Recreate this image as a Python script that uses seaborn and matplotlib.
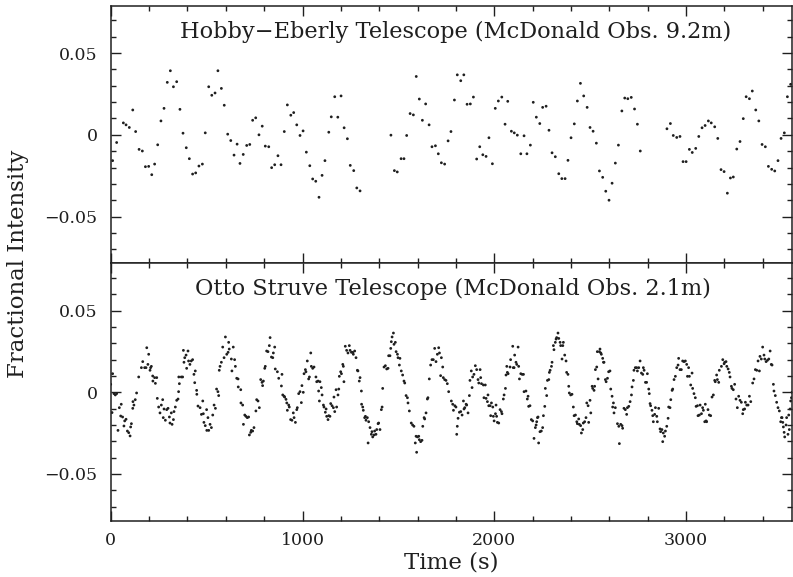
import numpy as np
import pandas as pd
import matplotlib
matplotlib.use("Agg")
import matplotlib.pyplot as plt
from matplotlib.ticker import MultipleLocator, FuncFormatter
import seaborn as sns

# ---------------- data ----------------
hobby_title = "Hobby\u2212Eberly Telescope (McDonald Obs. 9.2m)"
struve_title = "Otto Struve Telescope (McDonald Obs. 2.1m)"
x_label = "Time (s)"
y_label = "Fractional Intensity"

hobby_time = [10, 31, 66, 80, 97, 115, 130, 148, 165, 181, 198, 214, 229, 245, 262, 278, 295, 311, 327, 344,
              361, 377, 394, 410, 427, 443, 460, 478, 493, 511, 527, 544, 559, 577, 592, 610, 626, 643, 659, 674,
              691, 709, 725, 740, 756, 773, 790, 806, 824, 839, 855, 872, 888, 905, 921, 939, 954, 970, 987, 1003,
              1020, 1038, 1053, 1069, 1086, 1102, 1117, 1137, 1150, 1168, 1184, 1201, 1217, 1234, 1249, 1267, 1283, 1300,
              1461, 1479, 1494, 1514, 1529, 1543, 1561, 1578, 1593, 1609, 1625, 1642, 1660, 1675, 1693, 1708, 1724, 1741,
              1759, 1774, 1792, 1807, 1825, 1841, 1858, 1875, 1891, 1908, 1924, 1940, 1957, 1972, 1990, 2005, 2021, 2039,
              2056, 2070, 2089, 2104, 2120, 2138, 2155, 2170, 2188, 2203, 2219, 2237, 2252, 2270, 2285, 2301, 2318, 2336,
              2352, 2369, 2384, 2400, 2417, 2433, 2449, 2466, 2484, 2499, 2515, 2532, 2548, 2565, 2581, 2598, 2614, 2631,
              2647, 2665, 2680, 2696, 2714, 2731, 2746, 2761,
              2900, 2918, 2933, 2951, 2968, 2984, 3000, 3017, 3032, 3050, 3066, 3083, 3099, 3116, 3131, 3149, 3165, 3182,
              3198, 3215, 3231, 3246, 3264, 3281, 3298, 3313, 3330, 3345, 3363, 3379, 3396, 3413, 3429, 3446, 3462, 3479,
              3495, 3512, 3528, 3545]
hobby_flux = [-0.0158, -0.0047, 0.0073, 0.0061, 0.0045, 0.0152, 0.002, -0.0089, -0.0099, -0.0195, -0.0193, -0.0244,
              -0.0179, -0.0061, 0.0085, 0.0162, 0.0321, 0.0392, 0.0294, 0.0325, 0.0156, 0.001, -0.0079, -0.0146, -0.024,
              -0.0233, -0.0191, -0.0179, 0.0012, 0.0294, 0.0242, 0.0256, 0.0392, 0.0284, 0.0181, 0.0004, -0.0035, -0.0124,
              -0.0057, -0.0175, -0.012, -0.0065, -0.0059, 0.0089, 0.0104, 0.0, 0.0053, -0.0069, -0.0073, -0.0201, -0.0183,
              -0.0128, -0.0183, 0.002, 0.0183, 0.012, 0.0136, 0.0061, -0.0004, 0.0024, -0.0106, -0.0189, -0.027, -0.0284,
              -0.0382, -0.0248, -0.0158, 0.0016, 0.011, 0.0233, 0.0108, 0.0238, 0.0043, -0.0024, -0.0187, -0.0219, -0.0325,
              -0.0343,
              -0.0002, -0.0219, -0.0227, -0.0146, -0.0146, -0.0004, 0.013, 0.0122, 0.0357, 0.0219, 0.0089, 0.0189, 0.0061,
              -0.0073, -0.0067, -0.0116, -0.0171, -0.0179, -0.0037, 0.002, 0.0213, 0.0367, 0.0331, 0.0367, 0.0187, 0.0189,
              0.0231, -0.0148, -0.0073, -0.0122, -0.0132, -0.0018, -0.0177, 0.0162, 0.0207, 0.0231, 0.0065, 0.0205, 0.0022,
              0.0012, -0.0002, -0.0116, -0.0006, -0.0116, -0.0063, 0.0199, 0.0108, 0.0069, 0.0168, 0.0175, 0.0028, -0.011,
              -0.0134, -0.0238, -0.0268, -0.0268, -0.0156, -0.0018, 0.0067, 0.0207, 0.0315, 0.0238, 0.0168, 0.0045, 0.0022,
              -0.0051, -0.0221, -0.026, -0.0345, -0.04, -0.0296, -0.0173, -0.0063, 0.0146, 0.0225, 0.0221, 0.0229, 0.0158,
              0.0065, -0.0099,
              0.0037, 0.0069, -0.0004, -0.0016, -0.001, -0.0164, -0.0164, -0.0089, -0.0108, -0.0083, -0.001, 0.0043,
              0.0057, 0.0085, 0.0073, 0.0049, -0.0022, -0.0213, -0.0225, -0.0357, -0.0264, -0.0258, -0.0087, -0.0041,
              0.0099, 0.0233, 0.0221, 0.0268, 0.0152, 0.0085, -0.0059, -0.0073, -0.0193, -0.0211, -0.0221, -0.0158,
              -0.0022, 0.0012, 0.0233, 0.0309]

struve_time = [0, 7, 10, 17, 24, 31, 38, 45, 52, 55, 62, 69, 73, 80, 87, 94, 101, 104, 108, 115, 116, 121, 128, 135,
               146, 160, 167, 177, 184, 188, 194, 198, 205, 208, 212, 219, 220, 229, 233, 240, 243, 250, 257, 264, 271,
               274, 278, 285, 292, 299, 306, 309, 316, 320, 327, 330, 337, 344, 351, 354, 355, 358, 368, 375, 379, 382,
               386, 393, 396, 403, 406, 413, 420, 427, 434, 438, 441, 448, 449, 455, 466, 473, 480, 483, 486, 493, 500,
               501, 507, 511, 518, 525, 532, 539, 546, 552, 559, 563, 566, 570, 577, 584, 591, 598, 605, 612, 615, 618,
               629, 632, 639, 646, 650, 657, 664, 665, 678, 679, 688, 692, 699, 705, 712, 719, 723, 730, 733, 740, 747,
               757, 761, 768, 775, 782, 789, 792, 796, 803, 806, 813, 820, 827, 831, 838, 845, 848, 855, 858, 869, 876,
               890, 893, 897, 904, 907, 914, 918, 921, 928, 931, 938, 945, 952, 956, 963, 970, 973, 980, 987, 994, 997,
               1004, 1008, 1015, 1018, 1025, 1032, 1036, 1043, 1046, 1053, 1060, 1070, 1074, 1081, 1084, 1088, 1091, 1098,
               1102, 1109, 1112, 1119, 1123, 1126, 1133, 1137, 1143, 1147, 1154, 1161, 1164, 1168, 1175, 1178, 1185, 1189,
               1192, 1199, 1203, 1210, 1213, 1216, 1223, 1230, 1237, 1244, 1248, 1255, 1262, 1265, 1272, 1279, 1286, 1289,
               1296, 1300, 1307, 1308, 1314, 1317, 1324, 1328, 1331, 1338, 1342, 1345, 1352, 1359, 1362, 1366, 1373, 1376,
               1383, 1387, 1394, 1397, 1404, 1411, 1415, 1418, 1425, 1432, 1439, 1446, 1449, 1456, 1460, 1463, 1467, 1474,
               1477, 1484, 1488, 1495, 1498, 1505, 1508, 1515, 1522, 1529, 1533, 1540, 1547, 1550, 1557, 1567, 1574, 1581,
               1588, 1592, 1595, 1599, 1606, 1609, 1616, 1623, 1627, 1634, 1637, 1644, 1651, 1654, 1661, 1668, 1675, 1682,
               1689, 1696, 1703, 1710, 1714, 1720, 1724, 1731, 1734, 1741, 1748, 1755, 1762,
               1776, 1783, 1787, 1794, 1800, 1804, 1807, 1811, 1818, 1825, 1832, 1839, 1842, 1846, 1853, 1856, 1863, 1870,
               1873, 1880, 1884, 1887, 1894, 1901, 1908, 1915, 1919, 1926, 1929, 1933, 1943, 1946, 1953, 1957, 1964, 1967,
               1971, 1978, 1981, 1985, 1992, 1995, 1999, 2006, 2009, 2012, 2016, 2023, 2030, 2037, 2040, 2047, 2051, 2058,
               2061, 2065, 2068, 2072, 2082, 2085, 2096, 2099, 2103, 2106, 2113, 2117, 2124, 2127, 2131, 2138, 2145, 2152,
               2155, 2165, 2172, 2176, 2179, 2186, 2193, 2200, 2207, 2214, 2218, 2221, 2225, 2228, 2231, 2238, 2245, 2252,
               2256, 2263, 2266, 2273, 2277, 2284, 2287, 2291, 2298, 2301, 2308, 2311, 2318, 2322, 2325, 2332, 2336, 2343,
               2346, 2353, 2357, 2360, 2367, 2374, 2377, 2384, 2388, 2391, 2398, 2405, 2412, 2416, 2423, 2430, 2433, 2440,
               2443, 2450, 2454, 2461, 2464, 2471, 2478, 2482, 2489, 2492, 2499, 2503, 2510, 2513, 2520, 2523, 2527, 2534,
               2537, 2541, 2548, 2551, 2555, 2558, 2565, 2569, 2572, 2579, 2583, 2590, 2596, 2603, 2607, 2614, 2617, 2621,
               2624, 2631, 2642, 2649, 2652,
               2659, 2666, 2669, 2676, 2683, 2690, 2694, 2701, 2708, 2715, 2718, 2725, 2728, 2735, 2742, 2746, 2753, 2760,
               2767, 2774, 2777, 2781, 2788, 2794, 2798, 2805, 2808, 2812, 2815, 2822, 2826, 2829, 2836, 2840, 2847, 2850,
               2857, 2864, 2867, 2874, 2878, 2881, 2888, 2892, 2899, 2906, 2909, 2916, 2920, 2927, 2930, 2937, 2944, 2951,
               2958, 2961, 2968, 2975, 2982, 2989, 2996, 3003, 3007, 3013, 3017, 3024, 3031, 3034, 3041, 3048, 3052, 3059,
               3062, 3069, 3073, 3080, 3086, 3090, 3097, 3100, 3104, 3107, 3114, 3121, 3128, 3135, 3142, 3149, 3152, 3159,
               3163, 3170, 3173, 3184, 3191, 3198, 3201, 3208, 3212, 3219, 3225, 3229, 3236, 3239, 3246, 3253, 3260, 3267,
               3274, 3281, 3288, 3295, 3298, 3305, 3309, 3316, 3323, 3330, 3337, 3347, 3354, 3361, 3368, 3375, 3382, 3385,
               3392, 3399, 3406, 3410, 3417, 3424, 3431, 3438, 3444, 3448, 3455, 3458, 3465, 3472, 3479, 3486, 3493, 3497,
               3500, 3504, 3507, 3511, 3514, 3521, 3524, 3531, 3535, 3538, 3542, 3545, 3549, 3552]
struve_flux = [0.0049, -0.0124, 0.0114, -0.0008, -0.0016, -0.0008, -0.0233, -0.0094, -0.0145, -0.0073, -0.0151, -0.0206,
               -0.0175, -0.0165, -0.0237, -0.0247, -0.0267, -0.0212, -0.0192, -0.0098, -0.0057, -0.0078, -0.0045, -0.0004,
               0.0094, 0.0151, 0.0188, 0.0151, 0.0151, 0.0273, 0.0171, 0.0233, 0.0135, 0.0151, 0.0159, 0.01, 0.0069, 0.009,
               0.0055, 0.009, -0.0037, -0.009, -0.0126, -0.0078, -0.0045, -0.0155, -0.0102, -0.0171, -0.0106, -0.0098,
               -0.0151, -0.0188, -0.0126, -0.0196, -0.0167, -0.0118, -0.009, -0.0049, -0.0041, 0.0004, 0.0094, 0.0053,
               0.0094, 0.0094, 0.0257, 0.0184, 0.0212, 0.0228, 0.0147, 0.0253, 0.0192, 0.0171, 0.0192, 0.02, 0.011, 0.0059,
               0.0131, 0.0012, -0.0012, -0.0084, -0.0094, -0.0135, -0.0053, -0.0131, -0.0184, -0.0204, -0.0106, -0.0233,
               -0.0155, -0.0233, -0.0196, -0.0216, -0.0139, -0.0078, -0.0098, 0.002, 0.0004, -0.002, 0.0135, 0.0159,
               0.0184, 0.0277, 0.0212, 0.0339, 0.0233, 0.0245, 0.0306, 0.0265, 0.0204, 0.0131, 0.0277, 0.02, 0.0159,
               0.0086, 0.0082, 0.0033, 0.0016, -0.0065, -0.0078, -0.0196, -0.0139, -0.0147, -0.0155, -0.0151, -0.0261,
               -0.0245, -0.0233, -0.0237, -0.0216, -0.0114, -0.0045, -0.0053, -0.0094, 0.0078, 0.0061, 0.0041, 0.0069,
               0.0147, 0.0159, 0.0253, 0.0249, 0.0286, 0.0335, 0.0216, 0.0212, 0.0241, 0.0277, 0.0143, 0.0126, 0.0086,
               0.0039, 0.011, -0.0016, -0.0024, -0.0029, -0.0043, -0.0065, -0.011, -0.0078, -0.009, -0.0167, -0.0171,
               -0.0126, -0.0155, -0.0184, -0.0106, -0.0094, -0.0008, 0.0004, -0.0063, 0.0041, 0.0, 0.0114, 0.0139, 0.0126,
               0.0192, 0.0082, 0.0094, 0.0241, 0.0159, 0.0147, 0.0155, 0.0094, 0.0065, 0.0069, 0.0008, -0.0053, 0.0065,
               0.0029, -0.0016, -0.0078, -0.009, -0.0122, -0.0102, -0.0147, -0.0167, -0.0143, -0.0147, -0.0069, -0.0082,
               -0.0094, -0.0029, -0.0118, 0.0016, -0.009, -0.0016, 0.002, 0.0098, 0.0126, 0.0114, 0.0171, 0.0159, 0.0065,
               0.0282, 0.0257, 0.0241, 0.0286, 0.0257, 0.0245, 0.0245, 0.0233, 0.0253, 0.0212, 0.0135, 0.0131, 0.0069,
               0.009, 0.0008, -0.0073, -0.009, -0.011, -0.0155, -0.0147, -0.0171, -0.0155, -0.031, -0.018, -0.0216,
               -0.0257, -0.0241, -0.0273, -0.0261, -0.0237, -0.0257, -0.0228, -0.0192, -0.0188, -0.0228, -0.0106, -0.009,
               0.0024, 0.0155, 0.0163, 0.0143, 0.0147, 0.0224, 0.0224, 0.0269, 0.031, 0.0339, 0.0363, 0.0294, 0.0306,
               0.0249, 0.0233, 0.0212, 0.0167, 0.0208, 0.0131, 0.0106, 0.0069, 0.0057, -0.002, -0.0033, -0.0065, -0.0114,
               -0.0188, -0.02, -0.0208, -0.031, -0.0269, -0.0367, -0.0273, -0.0269, -0.029, -0.0302, -0.0294, -0.0208,
               -0.0155, -0.0163, -0.0126, -0.0041, -0.0033, 0.0082, 0.0167, 0.02, 0.02, 0.0269, 0.0188, 0.0233, 0.0273,
               0.0241, 0.0102, 0.0212, 0.0155, 0.009, 0.0078, 0.0073, 0.0053, 0.0004,
               -0.0053, -0.0073, -0.011, -0.0082, -0.009, -0.0257, -0.0208, -0.0159, -0.0122, -0.0118, -0.0139, -0.0053,
               -0.0102, -0.0094, -0.0073, -0.0078, -0.0126, -0.002, 0.0073, 0.0131, 0.0029, 0.0094, 0.011, 0.0163, 0.0139,
               0.0078, 0.0057, 0.0139, 0.009, 0.0053, 0.0045, -0.0033, 0.0045, -0.0037, -0.0057, -0.0016, -0.0082, -0.0082,
               -0.0143, -0.0065, -0.009, -0.0147, -0.0175, -0.0131, -0.0078, -0.0147, -0.0184, -0.0188, -0.0106, -0.0118,
               -0.0131, -0.0041, -0.0016, 0.0024, 0.0106, 0.0159, 0.0122, 0.0114, 0.0155, 0.02, 0.0282, 0.0151, 0.0151,
               0.0228, 0.0184, 0.0171, 0.0277, 0.0159, 0.0082, 0.0114, 0.011, 0.011, 0.0004, 0.0008, -0.0041, -0.0024,
               -0.0086, -0.0082, -0.0167, -0.0175, -0.0282, -0.0216, -0.02, -0.018, -0.0155, -0.0151, -0.031, -0.0241,
               -0.0237, -0.0216, -0.0143, -0.0086, 0.0024, -0.002, 0.0073, 0.0078, 0.0122, 0.0135, 0.0159, 0.0184, 0.0286,
               0.0261, 0.0306, 0.0326, 0.0335, 0.0363, 0.033, 0.0306, 0.0286, 0.0204, 0.0286, 0.0306, 0.0228, 0.0192,
               0.0122, 0.011, 0.0037, -0.0004, -0.0016, -0.0012, -0.009, -0.0143, -0.0139, -0.018, -0.0192, -0.0163,
               -0.0196, -0.0204, -0.0249, -0.0228, -0.0188, -0.018, -0.0155, -0.0065, -0.0082, -0.0184, -0.0049, -0.0126,
               0.0037, 0.0024, 0.0012, 0.0037, 0.0139, 0.0155, 0.0249, 0.0082, 0.0249, 0.0265, 0.0241, 0.0233, 0.0208,
               0.0184, 0.0184, 0.0078, 0.0065, 0.0086, 0.0126, 0.0131, 0.002, -0.0024, -0.009, -0.0065, -0.0126, -0.0094,
               -0.0192, -0.0208, -0.0314,
               -0.0196, -0.0204, -0.022, -0.0098, -0.0106, -0.0135, -0.0094, -0.0086, -0.0057, -0.0016, 0.0033, 0.0073,
               0.0135, 0.0151, 0.0151, 0.0131, 0.0151, 0.0192, 0.0118, 0.011, 0.0151, 0.0135, 0.0061, 0.0061, 0.0114,
               0.002, -0.0008, -0.0069, -0.0082, -0.011, -0.0143, -0.018, -0.0135, -0.0094, -0.0147, -0.018, -0.0098,
               -0.0224, -0.0241, -0.0228, -0.0302, -0.0249, -0.0269, -0.0237, -0.0208, -0.0159, -0.009, -0.0094, -0.0045,
               0.0012, 0.002, 0.0078, 0.0098, 0.0151, 0.0167, 0.0208, 0.0139, 0.0139, 0.0192, 0.0188, 0.0192, 0.0171,
               0.0098, 0.0151, 0.0098, 0.0045, 0.0118, 0.0024, -0.0008, -0.0033, -0.0086, -0.0082, -0.0143, -0.0139,
               -0.0078, -0.0131, -0.0094, -0.011, -0.018, -0.0073, -0.0175, -0.018, -0.0106, -0.0139, -0.0143, -0.0029,
               -0.0016, 0.0073, 0.0065, 0.0106, 0.0078, 0.0061, 0.0135, 0.0159, 0.02, 0.0175, 0.0184, 0.0188, 0.0159,
               0.0143, 0.0122, 0.0094, 0.0037, 0.0024, 0.0016, 0.0049, -0.0041, -0.0094, -0.0024, -0.0049, -0.0061,
               -0.0131, -0.0106, -0.0102, -0.0061, -0.0078, -0.0078, -0.0024, -0.0057, 0.0057, 0.0082, 0.0139, 0.0135,
               0.0192, 0.0131, 0.022, 0.0204, 0.0277, 0.0228, 0.0204, 0.0188, 0.0196, 0.0204, 0.0253, 0.0171, 0.0167,
               0.0049, 0.0008, -0.002, -0.0061, -0.0094, -0.0114, -0.018, -0.0155, -0.0155, -0.0184, -0.0212, -0.0245,
               -0.0273, -0.02, -0.0155, -0.0257, -0.0139, -0.0228, -0.0102, -0.0053, -0.0033, 0.0]

# ---------------- figure ----------------
sns.set_theme(style="ticks")
plt.rcParams["font.family"] = ["DejaVu Serif"]
plt.rcParams["axes.unicode_minus"] = True
ink = "#1f1f1f"

fig = plt.figure(figsize=(7.93, 5.77), dpi=100)
left, width = 110.7 / 793, (792 - 110.7) / 793
ax_top = fig.add_axes([left, 1 - 263.3 / 577, width, 257.6 / 577])
ax_bot = fig.add_axes([left, 1 - 520.7 / 577, width, 257.4 / 577], sharex=ax_top)

panels = [
    (ax_top, pd.DataFrame({"time": hobby_time, "flux": hobby_flux}), hobby_title, 0.506),
    (ax_bot, pd.DataFrame({"time": struve_time, "flux": struve_flux}), struve_title, 0.502),
]

fmt = FuncFormatter(lambda v, p: "0" if abs(v) < 1e-9 else f"{v:.2f}".replace("-", "\u2212"))

for ax, df, title, tx in panels:
    sns.scatterplot(data=df, x="time", y="flux", ax=ax, s=4.0, color=ink,
                    edgecolor="none", linewidth=0, legend=False)
    ax.set_xlim(0, 3552)
    ax.set_ylim(-0.0786, 0.0790)
    ax.xaxis.set_major_locator(MultipleLocator(1000))
    ax.xaxis.set_minor_locator(MultipleLocator(200))
    ax.yaxis.set_major_locator(MultipleLocator(0.05))
    ax.yaxis.set_minor_locator(MultipleLocator(0.01))
    ax.yaxis.set_major_formatter(fmt)
    ax.tick_params(which="both", direction="in", top=True, right=True, colors=ink,
                   width=1.0, labelsize=12.5, labelcolor=ink)
    ax.tick_params(which="major", length=7.2, pad=9.5)
    ax.tick_params(which="minor", length=3.6)
    for sp in ax.spines.values():
        sp.set_linewidth(1.1)
        sp.set_color(ink)
    ax.set_xlabel("")
    ax.set_ylabel("")
    ax.text(tx, 0.876, title, transform=ax.transAxes, ha="center", va="baseline",
            fontsize=16.2, color=ink)

ax_top.tick_params(labelbottom=False)
ax_bot.tick_params(axis="x", pad=8)

fig.text((110.7 + 792) / 2 / 793, 1 - 563 / 577, x_label, ha="center", va="center",
         fontsize=16.5, color=ink)
fig.text(18 / 793, 1 - 264 / 577, y_label, ha="center", va="center", rotation=90,
         fontsize=16.5, color=ink)

fig.savefig("out.png", dpi=100, facecolor="white")
